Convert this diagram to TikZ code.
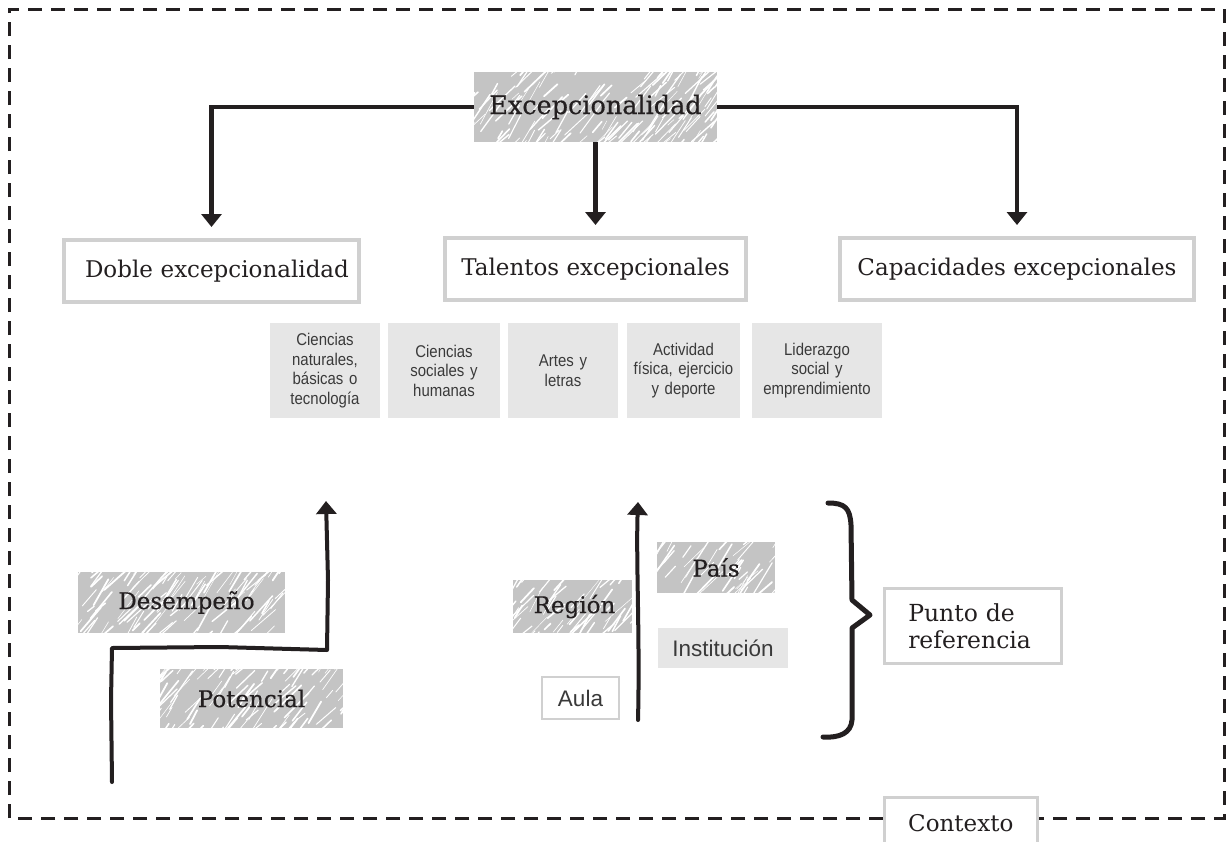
\documentclass[tikz,border=0pt]{standalone}
\usepackage{fontspec}
\setmainfont{DejaVu Serif}
\newfontfamily\condsans[FakeStretch=0.88]{Liberation Sans}
\newfontfamily\plainsans{Liberation Sans}
\newfontfamily\medserif[FakeBold=0.5]{DejaVu Serif}
\usetikzlibrary{arrows.meta}
\definecolor{ink}{HTML}{231F20}
\definecolor{boxgray}{HTML}{D0D0D0}
\definecolor{hatchgray}{HTML}{C4C4C4}
\definecolor{lightfill}{HTML}{E6E6E6}
\definecolor{sanstext}{HTML}{3A3A3A}
\newcommand\hatchnode[6]{%
  \begin{scope}
    \clip (#2-#4/2,#3-#5/2) rectangle (#2+#4/2,#3+#5/2);
    \fill[hatchgray] (#2-#4/2,#3-#5/2) rectangle (#2+#4/2,#3+#5/2);
    \pgfmathtruncatemacro\nstreak{(#4/110)*#5}
    \foreach \k in {1,...,\nstreak}{
      \pgfmathsetmacro\px{#2-#4/2-20+(#4+20)*rnd}
      \pgfmathsetmacro\py{#3-#5/2+(#5+20)*rnd}
      \pgfmathsetmacro\ang{38+25*rnd}
      \pgfmathsetmacro\len{8+30*rnd}
      \pgfmathsetmacro\lw{0.4+1.4*rnd}
      \draw[white, line width=\lw pt, line cap=round] (\px,\py) -- ++({\len*cos(\ang)},{-\len*sin(\ang)});
    }
  \end{scope}
  \node[hatchtext, minimum width=#4pt, minimum height=#5pt] (#1) at (#2,#3) {#6};
}
\begin{document}
\begin{tikzpicture}[x=1pt,y=-1pt,
  hatchtext/.style={inner sep=0pt, text=ink, font=\medserif\fontsize{23}{27}\selectfont},
  outbox/.style={draw=boxgray, line width=4pt, fill=white, inner sep=0pt, text=ink,
    font=\fontsize{23}{27}\selectfont},
  smallbox/.style={fill=lightfill, inner sep=0pt, align=center, text=sanstext,
    font=\condsans\fontsize{17}{19.5}\selectfont},
  conn/.style={draw=ink, line width=4.5pt, line join=miter},
  arr/.style={conn, -{Triangle[length=13pt,width=20pt]}},
  hand/.style={draw=ink, line width=4pt, line join=round, line cap=round}
]
\pgfmathsetseed{4711}
\useasboundingbox (0,0) rectangle (1229,841);
\fill[white] (0,0) rectangle (1229,841);

% context frame
\draw[draw=ink, line width=3pt, dash pattern=on 14pt off 9pt] (9,818) -- (9,9) -- (1224,9) -- (1224,818) -- cycle;

% top
\hatchnode{exc}{595.5}{107}{243}{70}{\fontsize{25.5}{30}\selectfont Excepcionalidad}

\node[outbox, anchor=north west, text width=253pt, inner xsep=21pt,
  minimum height=62pt, align=left] (doble) at (62,238) {\mbox{Doble excepcionalidad}};
\node[outbox, minimum width=301pt, minimum height=62pt] (talentos) at (595.5,269) {Talentos excepcionales};
\node[outbox, minimum width=354pt, minimum height=62pt] (capac) at (1017,269) {Capacidades excepcionales};

\draw[arr, shorten >=11pt] (exc.west) -| (doble.north);
\draw[arr, shorten >=11pt] (exc.south) -- (talentos.north);
\draw[arr, shorten >=11pt] (exc.east) -| (capac.north);

% talent areas
\node[smallbox, minimum width=110pt, minimum height=95pt, text width=108pt] (s1) at (325,370.5) {Ciencias\\naturales,\\básicas o\\tecnología};
\node[smallbox, minimum width=112pt, minimum height=95pt, text width=110pt] (s2) at (444,370.5) {Ciencias\\sociales y\\humanas};
\node[smallbox, minimum width=110pt, minimum height=95pt, text width=108pt] (s3) at (563,370.5) {Artes y\\letras};
\node[smallbox, minimum width=113pt, minimum height=95pt, text width=111pt] (s4) at (683.5,370.5) {Actividad\\física, ejercicio\\y deporte};
\node[smallbox, minimum width=130pt, minimum height=95pt, text width=128pt] (s5) at (817,370.5) {Liderazgo\\social y\\emprendimiento};

% desempeño / potencial
\hatchnode{desemp}{181.5}{602.5}{207}{61}{\hspace*{10pt}Desempeño}
\hatchnode{potenc}{251.5}{698.5}{183}{59}{Potencial}
\coordinate (p0) at (112,782);
\coordinate (p1) at (112,648);
\coordinate (p2) at (327,650);
\coordinate (p3) at (326,501);
\draw[hand, -{Triangle[length=13pt,width=20pt]}] (p0) -- (111,700) -- (p1) -- (220,647) -- (p2) -- (328,580) -- (p3);

% levels
\coordinate (q0) at (638,720);
\coordinate (q1) at (638,502);
\draw[hand, -{Triangle[length=13pt,width=20pt]}] (q0) .. controls (640,640) and (636,560) .. (q1);
\hatchnode{region}{572.5}{606.5}{119}{53}{\hspace*{4pt}Región}
\hatchnode{pais}{716}{567.5}{118}{51}{País}
\node[smallbox, minimum width=130pt, minimum height=40pt, font=\plainsans\fontsize{22.5}{26}\selectfont] (inst) at (723,648) {Institución};
\node[draw=boxgray, line width=2.5pt, fill=white, inner sep=0pt, minimum width=77pt, minimum height=42pt,
  text=sanstext, font=\plainsans\fontsize{22.5}{26}\selectfont] (aula) at (580.5,698) {Aula};

% brace
\coordinate (b0) at (828,503);
\coordinate (b1) at (823,737);
\draw[hand, line width=5pt] (b0) .. controls (845,503) and (850,508) .. (851,525)
  -- (852,600) -- (870,615) -- (852,628) -- (852,720)
  .. controls (851,733) and (840,738) .. (b1);

\node[draw=boxgray, line width=2.5pt, fill=white, inner sep=0pt, anchor=north west,
  minimum width=177pt, minimum height=75pt, text width=129pt, inner xsep=24pt, align=left,
  text=ink, font=\fontsize{23.5}{27}\selectfont] (punto) at (883,587) {Punto de\\referencia};

\node[draw=boxgray, line width=2.5pt, fill=white, inner sep=0pt, anchor=north west,
  minimum width=153pt, text=ink, font=\fontsize{23}{27}\selectfont,
  text height=34pt, text depth=36pt] (ctx) at (883,796) {Contexto};
\end{tikzpicture}
\end{document}
